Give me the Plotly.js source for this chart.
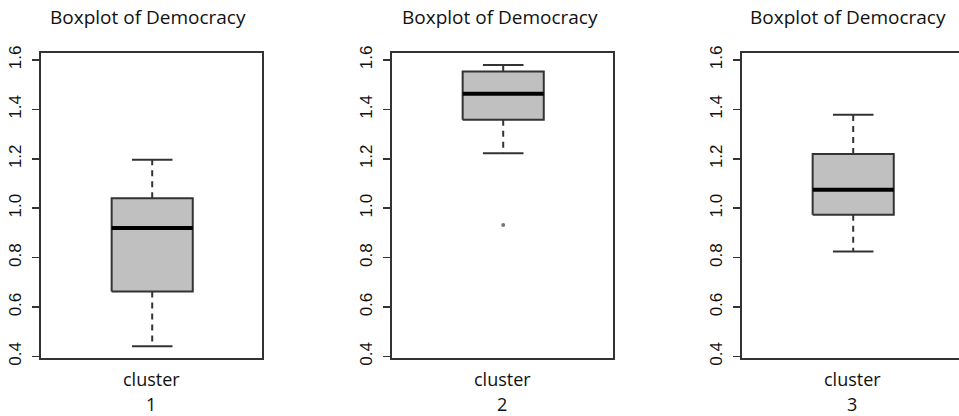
<!DOCTYPE html>
<html><head><meta charset="utf-8">
<script src="https://cdn.plot.ly/plotly-3.0.1.min.js"></script>
<style>html,body{margin:0;padding:0;overflow:hidden;background:#fff;}#chart{width:970px;height:416px;}</style>
</head><body><div id="chart"></div>
<script>
// ---- data ----
const clusters = ['1', '2', '3'];
const lowerWhisker = [0.442, 1.223, 0.825];
const q1 = [0.663, 1.358, 0.974];
const medians = [0.920, 1.463, 1.075];
const q3 = [1.040, 1.553, 1.220];
const upperWhisker = [1.196, 1.580, 1.378];
const outliers = [[], [0.932], []];
const yTicks = [0.4, 0.6, 0.8, 1.0, 1.2, 1.4, 1.6];
const yTickText = ['0.4', '0.6', '0.8', '1.0', '1.2', '1.4', '1.6'];
const panelTitle = 'Boxplot of Democracy';
const xLabel = 'cluster';

// ---- layout helpers (pixels) ----
const W = 970, H = 416;
const frameLeft = [40.7, 391.7, 741.7];
const frameW = 221;
const frameTop = 53.3, frameBottom = 358;
const titleCenter = [148, 500, 848];
const dark = '#333333';

const traces = [];
const layout = {
  width: W, height: H,
  margin: {l: 0, r: 0, t: 0, b: 0},
  paper_bgcolor: '#ffffff', plot_bgcolor: '#ffffff',
  showlegend: false,
  annotations: [],
  font: {family: 'Liberation Sans, Arial, sans-serif', color: '#222'}
};

clusters.forEach((c, i) => {
  const s = i === 0 ? '' : String(i + 1);
  const xa = 'x' + s, ya = 'y' + s;
  const bl = -0.2, br = 0.2, cl = -0.1, cr = 0.1; // box / staple half widths
  const xc = 1;
  // whiskers (dashed)
  traces.push({type: 'scatter', mode: 'lines', xaxis: xa, yaxis: ya, hoverinfo: 'skip',
    x: [xc, xc, null, xc, xc], y: [q1[i], lowerWhisker[i], null, q3[i], upperWhisker[i]],
    line: {color: dark, width: 2, dash: '6px,5px'}});
  // box
  traces.push({type: 'scatter', mode: 'lines', xaxis: xa, yaxis: ya, hoverinfo: 'skip',
    x: [xc + bl, xc + br, xc + br, xc + bl, xc + bl], y: [q1[i], q1[i], q3[i], q3[i], q1[i]],
    fill: 'toself', fillcolor: '#c0c0c0', line: {color: dark, width: 2}});
  // median
  traces.push({type: 'scatter', mode: 'lines', xaxis: xa, yaxis: ya, hoverinfo: 'skip',
    x: [xc + bl, xc + br], y: [medians[i], medians[i]], line: {color: '#000', width: 4}});
  // staples
  traces.push({type: 'scatter', mode: 'lines', xaxis: xa, yaxis: ya, hoverinfo: 'skip',
    x: [xc + cl, xc + cr, null, xc + cl, xc + cr],
    y: [lowerWhisker[i], lowerWhisker[i], null, upperWhisker[i], upperWhisker[i]],
    line: {color: dark, width: 2}});
  // outliers
  if (outliers[i].length) {
    traces.push({type: 'scatter', mode: 'markers', xaxis: xa, yaxis: ya, hoverinfo: 'skip',
      x: outliers[i].map(() => xc), y: outliers[i],
      marker: {color: '#777', size: 4, symbol: 'circle'}});
  }

  layout['xaxis' + s] = {
    domain: [frameLeft[i] / W, (frameLeft[i] + frameW) / W],
    anchor: ya, range: [0.45, 1.54], fixedrange: true,
    showline: true, mirror: true, linecolor: dark, linewidth: 2,
    showticklabels: false, ticks: '', showgrid: false, zeroline: false
  };
  layout['yaxis' + s] = {
    domain: [1 - frameBottom / H, 1 - frameTop / H],
    anchor: xa, range: [0.394, 1.627], fixedrange: true,
    tickvals: yTicks, ticktext: yTickText, tickangle: -90,
    ticks: 'outside', ticklen: 7, tickwidth: 1.5, tickcolor: dark,
    ticklabelstandoff: 4,
    tickfont: {size: 17, color: '#111', family: 'Liberation Sans, Arial, sans-serif'},
    showline: true, mirror: true, linecolor: dark, linewidth: 2,
    showgrid: false, zeroline: false
  };

  layout.annotations.push({
    text: panelTitle, xref: 'paper', yref: 'paper', showarrow: false,
    x: titleCenter[i] / W, y: 1 - 17 / H, xanchor: 'center', yanchor: 'middle',
    font: {family: 'Open Sans, sans-serif', size: 19, color: '#111'}
  });
  const cx = (frameLeft[i] + frameW / 2) / W;
  layout.annotations.push({
    text: xLabel, xref: 'paper', yref: 'paper', showarrow: false,
    x: cx, y: 1 - 379 / H, xanchor: 'center', yanchor: 'middle',
    font: {family: 'Open Sans, sans-serif', size: 18, color: '#111'}
  });
  layout.annotations.push({
    text: c, xref: 'paper', yref: 'paper', showarrow: false,
    x: cx, y: 0, xanchor: 'center', yanchor: 'bottom', yshift: -2,
    font: {family: 'Open Sans, sans-serif', size: 18, color: '#111'}
  });
});

Plotly.newPlot('chart', traces, layout, {staticPlot: true, displayModeBar: false});
</script>
</body></html>
